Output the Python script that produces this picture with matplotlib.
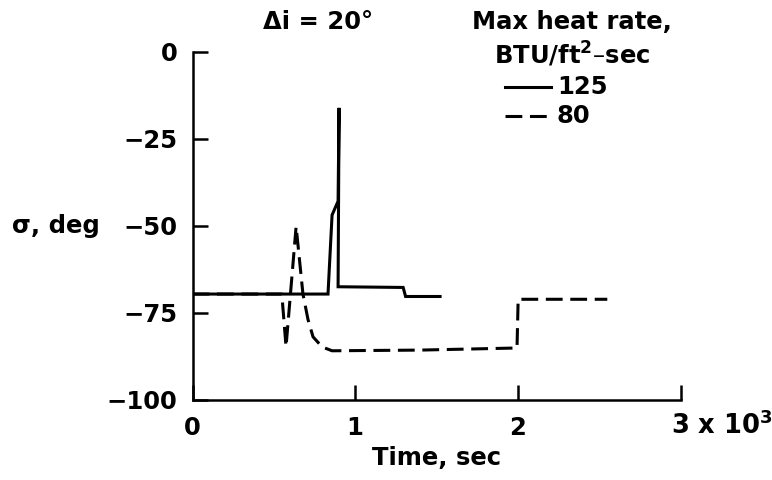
import matplotlib
matplotlib.use("Agg")
import matplotlib.pyplot as plt
from matplotlib.lines import Line2D

# time (sec) and bank angle sigma (deg)
t_125 = [0, 833, 858, 895, 901, 895, 1295, 1310, 1522]
sigma_125 = [-69.7, -69.7, -47, -43, -16.2, -67.6, -67.8, -70.4, -70.4]

t_80 = [0, 549, 575, 637, 679, 710, 741, 797, 858, 1400, 1995, 2002, 2550]
sigma_80 = [-69.7, -69.7, -84.8, -50.3, -69.7, -77, -82, -84.9, -86, -85.8,
            -85.2, -71.2, -71.2]

x_ticks = [0, 1000, 2000, 3000]
x_tick_labels = ["0", "1", "2", ""]
y_ticks = [0, -25, -50, -75, -100]
series_labels = ["125", "80"]

W, H = 772, 480
FONT = {"family": "DejaVu Sans", "weight": "bold", "size": 17.5}


def px(x, y):
    return (x / W, 1 - y / H)


plt.rcParams["mathtext.default"] = "bf"
fig = plt.figure(figsize=(W / 100, H / 100), dpi=100)
ax = fig.add_axes([192.5 / W, (H - 399.5) / H, (680.5 - 192.5) / W, 348 / H])

ax.plot(t_125, sigma_125, color="k", lw=2.2, solid_joinstyle="miter")
ax.plot(t_80, sigma_80, color="k", lw=2.2, dashes=(5.5, 2.5))

ax.set_xlim(0, 3000)
ax.set_ylim(-100, 0)
for side in ["top", "right"]:
    ax.spines[side].set_visible(False)
for side in ["left", "bottom"]:
    ax.spines[side].set_linewidth(1.8)
ax.set_xticks(x_ticks)
ax.set_xticklabels(x_tick_labels, **FONT)
ax.set_yticks(y_ticks)
ax.set_yticklabels([str(v).replace("-", "\u2212") for v in y_ticks], **FONT)
ax.tick_params(direction="in", length=11, width=1.8, pad=11)
ax.tick_params(axis="x", pad=12)

ax.set_ylabel("\u03c3, deg", rotation=0, ha="center", va="center", **FONT)
ax.yaxis.set_label_coords(-0.28, 0.5)
ax.set_xlabel("Time, sec", va="center", **FONT)
ax.xaxis.set_label_coords(0.5, -0.168)

# last tick label with the scale factor
fig.text(*px(671, 426), "3 x 10$^3$", ha="left", va="center",
         family="DejaVu Sans", weight="bold", size=18.5)

fig.text(*px(318, 22), "\u0394i = 20\u00b0", ha="center", va="center", **FONT)
fig.text(*px(572, 22), "Max heat rate,", ha="center", va="center", **FONT)
fig.text(*px(572, 54), "BTU/ft$^2$\u2013sec", ha="center", va="center", **FONT)

legend_y = [87, 116]
legend_dashes = [None, (5.5, 2.5)]
for label, ly, dash in zip(series_labels, legend_y, legend_dashes):
    (x0, y0) = px(505, ly)
    (x1, _) = px(551, ly)
    line = Line2D([x0, x1], [y0, y0], color="k", lw=2.2, transform=fig.transFigure)
    if dash:
        line.set_dashes(dash)
    fig.add_artist(line)
    fig.text(*px(557, ly), label, ha="left", va="center", **FONT)

fig.savefig("out.png", dpi=100)
